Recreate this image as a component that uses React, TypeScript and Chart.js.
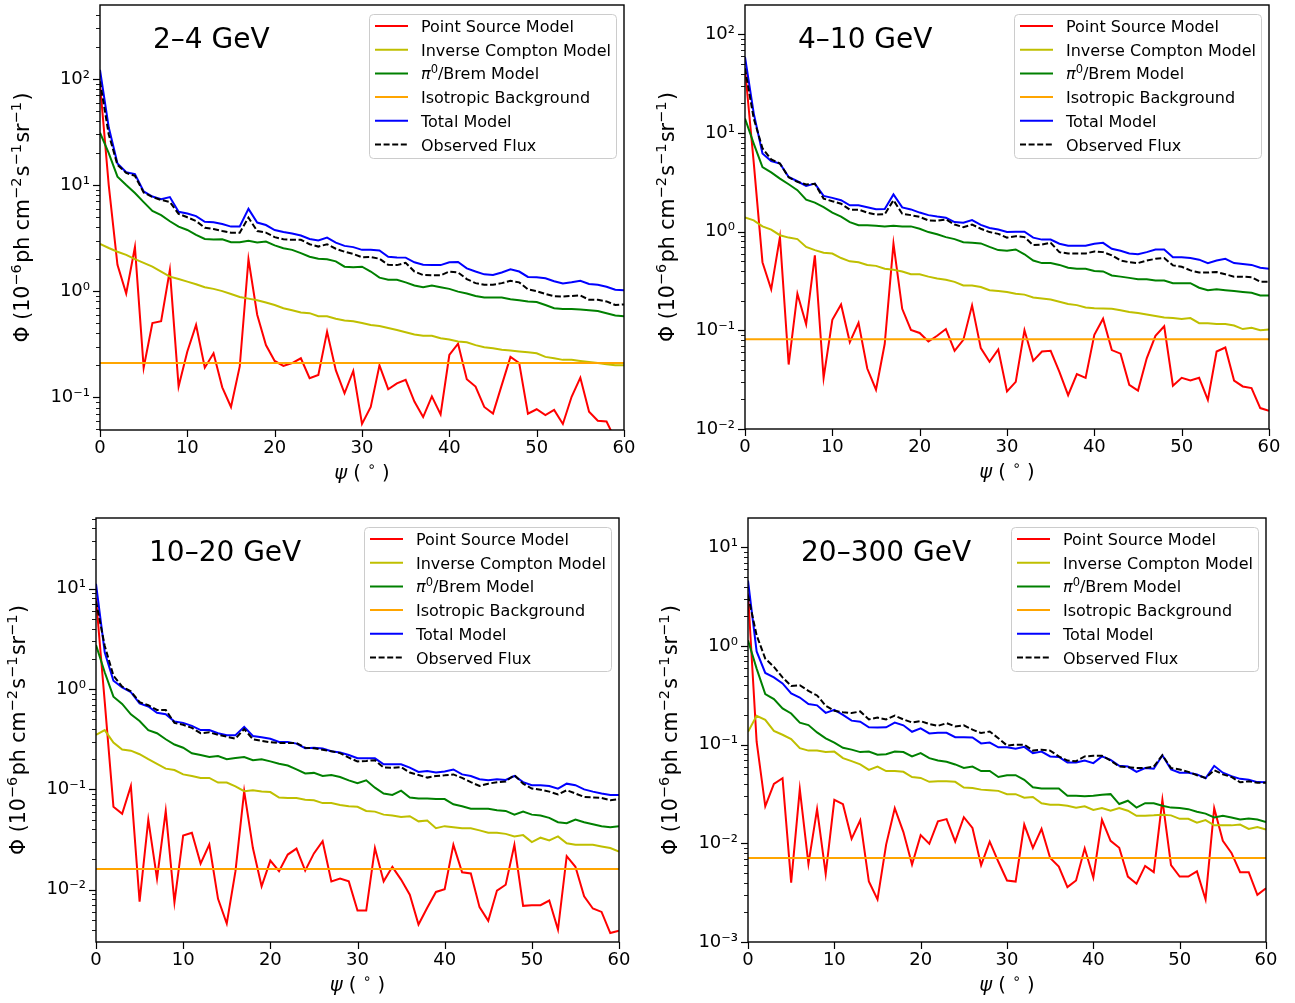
import React, { useEffect, useRef } from 'react';
import { Chart, registerables } from 'chart.js';

Chart.register(...registerables);

const FONT = "'DejaVu Sans', sans-serif";

// Angular distance from the centre (degrees)
const PSI = [0, 1, 2, 3, 4, 5, 6, 7, 8, 9, 10, 11, 12, 13, 14, 15, 16, 17, 18, 19, 20, 21, 22, 23, 24, 25, 26, 27, 28, 29, 30,
  31, 32, 33, 34, 35, 36, 37, 38, 39, 40, 41, 42, 43, 44, 45, 46, 47, 48, 49, 50, 51, 52, 53, 54, 55, 56, 57, 58, 59, 60];

const X_TICKS = [0, 10, 20, 30, 40, 50, 60];

const SERIES_LABELS = ['Point Source Model', 'Inverse Compton Model', 'π0/Brem Model', 'Isotropic Background', 'Total Model', 'Observed Flux'];

// ---------- 2–4 GeV ----------
const P1_POINT = [90, 10, 1.77, 0.95, 2.6, 0.19, 0.5, 0.52, 1.58, 0.126, 0.27, 0.48, 0.19, 0.26, 0.124, 0.081, 0.195, 2.0, 0.6, 0.31,
  0.22, 0.197, 0.21, 0.233, 0.151, 0.162, 0.415, 0.18, 0.109, 0.177, 0.056, 0.081, 0.2, 0.119, 0.135, 0.146, 0.091, 0.065, 0.102, 0.069,
  0.25, 0.32, 0.148, 0.126, 0.081, 0.07, 0.13, 0.24, 0.21, 0.07, 0.077, 0.068, 0.076, 0.056, 0.101, 0.153, 0.073, 0.06, 0.059, 0.04, 0.035];
const P1_IC = [2.79, 2.55, 2.35, 2.2, 2.0, 1.85, 1.7, 1.53, 1.37, 1.3, 1.23, 1.16, 1.09, 1.05, 1.0, 0.94, 0.88, 0.85, 0.82, 0.78,
  0.74, 0.69, 0.66, 0.63, 0.62, 0.58, 0.58, 0.55, 0.53, 0.52, 0.5, 0.48, 0.47, 0.45, 0.43, 0.41, 0.39, 0.38, 0.38, 0.36,
  0.35, 0.335, 0.33, 0.31, 0.296, 0.29, 0.28, 0.275, 0.27, 0.265, 0.26, 0.24, 0.233, 0.225, 0.225, 0.22, 0.215, 0.21, 0.205, 0.2, 0.2];
const P1_PI0 = [31.2, 20, 12, 10, 8.4, 6.9, 5.7, 5.2, 4.56, 4.06, 3.77, 3.39, 3.1, 3.07, 3.08, 2.89, 2.89, 2.98, 2.88, 2.93,
  2.7, 2.54, 2.45, 2.28, 2.11, 2.02, 2.0, 1.91, 1.7, 1.68, 1.7, 1.53, 1.34, 1.28, 1.28, 1.21, 1.13, 1.09, 1.13, 1.09,
  1.05, 0.99, 0.95, 0.9, 0.87, 0.87, 0.87, 0.84, 0.82, 0.8, 0.79, 0.74, 0.69, 0.68, 0.68, 0.67, 0.66, 0.65, 0.62, 0.59, 0.58];
const P1_ISO = [0.21, 0.21];
const P1_TOTAL = [122, 35, 16, 13.2, 12.7, 8.7, 7.8, 7.35, 7.7, 5.6, 5.4, 5.1, 4.5, 4.47, 4.3, 4.06, 4.07, 5.96, 4.43, 4.2,
  3.77, 3.61, 3.5, 3.34, 3.1, 3.0, 3.2, 2.87, 2.67, 2.6, 2.45, 2.46, 2.42, 2.11, 2.08, 2.07, 1.87, 1.77, 1.76, 1.76,
  1.87, 1.88, 1.64, 1.53, 1.44, 1.42, 1.5, 1.61, 1.53, 1.36, 1.35, 1.32, 1.24, 1.18, 1.21, 1.25, 1.17, 1.15, 1.1, 1.03, 1.02];
const P1_OBS = [95, 30, 15.5, 13, 12.2, 8.5, 7.7, 7.24, 6.92, 5.35, 4.97, 4.58, 3.96, 3.85, 3.69, 3.56, 3.56, 4.93, 3.69, 3.56,
  3.23, 3.08, 3.05, 3.05, 2.77, 2.63, 2.77, 2.51, 2.35, 2.24, 2.09, 2.1, 2.02, 1.77, 1.76, 1.85, 1.53, 1.42, 1.41, 1.41,
  1.53, 1.5, 1.3, 1.19, 1.15, 1.15, 1.19, 1.25, 1.21, 1.04, 1.0, 0.94, 0.895, 0.89, 0.9, 0.91, 0.83, 0.83, 0.8, 0.74, 0.75];

// ---------- 4–10 GeV ----------
const P2_POINT = [45, 5, 0.49, 0.26, 0.88, 0.045, 0.235, 0.115, 0.575, 0.033, 0.128, 0.183, 0.076, 0.119, 0.041, 0.025, 0.073, 0.755, 0.165, 0.101,
  0.094, 0.077, 0.088, 0.103, 0.062, 0.08, 0.179, 0.066, 0.048, 0.064, 0.024, 0.03, 0.1, 0.049, 0.061, 0.062, 0.038, 0.022, 0.036, 0.033,
  0.09, 0.131, 0.063, 0.058, 0.028, 0.0245, 0.052, 0.088, 0.11, 0.0275, 0.033, 0.031, 0.033, 0.0197, 0.061, 0.067, 0.031, 0.027, 0.026, 0.0163, 0.0153];
const P2_IC = [1.39, 1.3, 1.13, 1.05, 0.92, 0.87, 0.84, 0.7, 0.65, 0.61, 0.6, 0.54, 0.5, 0.49, 0.46, 0.45, 0.42, 0.41, 0.395, 0.37,
  0.37, 0.35, 0.335, 0.325, 0.31, 0.285, 0.285, 0.275, 0.255, 0.25, 0.245, 0.235, 0.23, 0.215, 0.21, 0.205, 0.195, 0.185, 0.18, 0.17,
  0.167, 0.166, 0.165, 0.16, 0.153, 0.15, 0.145, 0.14, 0.135, 0.133, 0.13, 0.133, 0.118, 0.118, 0.116, 0.116, 0.112, 0.103, 0.106, 0.1, 0.102];
const P2_PI0 = [14, 7.8, 4.5, 3.98, 3.45, 3.02, 2.63, 2.11, 1.97, 1.77, 1.56, 1.42, 1.25, 1.16, 1.16, 1.15, 1.13, 1.15, 1.13, 1.13,
  1.07, 0.99, 0.94, 0.88, 0.84, 0.78, 0.77, 0.76, 0.7, 0.65, 0.64, 0.66, 0.59, 0.51, 0.48, 0.48, 0.46, 0.43, 0.42, 0.42,
  0.4, 0.395, 0.36, 0.35, 0.34, 0.33, 0.33, 0.32, 0.32, 0.3, 0.3, 0.3, 0.27, 0.255, 0.26, 0.255, 0.25, 0.245, 0.24, 0.225, 0.225];
const P2_ISO = [0.081, 0.081];
const P2_TOTAL = [59, 15.8, 6.2, 5.2, 4.9, 3.58, 3.24, 2.9, 3.07, 2.3, 2.2, 2.08, 1.85, 1.85, 1.77, 1.69, 1.7, 2.38, 1.76, 1.68,
  1.56, 1.47, 1.42, 1.38, 1.25, 1.23, 1.31, 1.17, 1.09, 1.05, 0.99, 1.0, 1.0, 0.87, 0.83, 0.83, 0.755, 0.72, 0.72, 0.72,
  0.755, 0.77, 0.67, 0.64, 0.6, 0.59, 0.62, 0.66, 0.66, 0.55, 0.55, 0.54, 0.52, 0.48, 0.51, 0.53, 0.48, 0.47, 0.46, 0.43, 0.42];
const P2_OBS = [45, 14, 7, 5.4, 4.9, 3.55, 3.2, 3.0, 3.05, 2.16, 2.03, 1.92, 1.67, 1.67, 1.56, 1.49, 1.5, 2.08, 1.52, 1.47,
  1.41, 1.3, 1.29, 1.33, 1.18, 1.11, 1.18, 1.07, 0.99, 0.95, 0.87, 0.9, 0.88, 0.73, 0.74, 0.77, 0.62, 0.6, 0.6, 0.6,
  0.63, 0.62, 0.575, 0.51, 0.49, 0.48, 0.51, 0.53, 0.54, 0.455, 0.44, 0.405, 0.385, 0.385, 0.39, 0.37, 0.35, 0.35, 0.345, 0.31, 0.31];

// ---------- 10–20 GeV ----------
const P3_POINT = [8, 0.75, 0.067, 0.057, 0.108, 0.0076, 0.05, 0.0129, 0.061, 0.0075, 0.0347, 0.0369, 0.0182, 0.0282, 0.0081, 0.0046, 0.0153, 0.096, 0.026, 0.0108,
  0.0195, 0.0153, 0.0224, 0.0257, 0.0155, 0.023, 0.0304, 0.0121, 0.0129, 0.0121, 0.0062, 0.0062, 0.026, 0.0121, 0.0169, 0.0126, 0.0089, 0.0045, 0.0066, 0.0095,
  0.0101, 0.028, 0.0149, 0.0145, 0.0067, 0.0049, 0.0098, 0.0112, 0.028, 0.0069, 0.007, 0.007, 0.0078, 0.004, 0.0216, 0.0169, 0.0086, 0.0065, 0.006, 0.0037, 0.0039];
const P3_IC = [0.35, 0.39, 0.293, 0.25, 0.243, 0.224, 0.2, 0.18, 0.161, 0.156, 0.141, 0.136, 0.13, 0.13, 0.117, 0.117, 0.107, 0.096, 0.098, 0.095,
  0.094, 0.083, 0.082, 0.082, 0.079, 0.078, 0.073, 0.073, 0.07, 0.068, 0.067, 0.061, 0.06, 0.056, 0.055, 0.053, 0.054, 0.048, 0.049, 0.041,
  0.043, 0.042, 0.041, 0.041, 0.039, 0.037, 0.037, 0.036, 0.034, 0.035, 0.0298, 0.033, 0.031, 0.034, 0.029, 0.028, 0.028, 0.028, 0.027, 0.026, 0.024];
const P3_PI0 = [2.75, 1.47, 0.84, 0.71, 0.56, 0.48, 0.39, 0.363, 0.316, 0.28, 0.26, 0.229, 0.22, 0.21, 0.215, 0.2, 0.205, 0.21, 0.195, 0.2,
  0.19, 0.18, 0.173, 0.158, 0.144, 0.146, 0.136, 0.139, 0.133, 0.123, 0.115, 0.123, 0.104, 0.091, 0.088, 0.097, 0.083, 0.081, 0.081, 0.08,
  0.08, 0.071, 0.068, 0.064, 0.064, 0.064, 0.062, 0.061, 0.056, 0.06, 0.056, 0.055, 0.052, 0.047, 0.046, 0.05, 0.047, 0.045, 0.043, 0.042, 0.043];
const P3_ISO = [0.0161, 0.0161];
const P3_TOTAL = [11.2, 2.33, 1.21, 1.04, 0.93, 0.72, 0.67, 0.58, 0.56, 0.475, 0.46, 0.43, 0.39, 0.39, 0.363, 0.346, 0.346, 0.42, 0.34, 0.33,
  0.32, 0.297, 0.297, 0.286, 0.257, 0.26, 0.255, 0.24, 0.233, 0.22, 0.204, 0.204, 0.204, 0.178, 0.178, 0.178, 0.165, 0.149, 0.152, 0.147,
  0.151, 0.158, 0.141, 0.136, 0.126, 0.123, 0.126, 0.124, 0.136, 0.118, 0.11, 0.11, 0.108, 0.1016, 0.114, 0.11, 0.1, 0.095, 0.091, 0.088, 0.088];
const P3_OBS = [7.5, 2.7, 1.36, 1.06, 0.95, 0.74, 0.69, 0.62, 0.62, 0.46, 0.44, 0.41, 0.363, 0.37, 0.35, 0.335, 0.32, 0.4, 0.316, 0.305,
  0.295, 0.29, 0.29, 0.29, 0.26, 0.257, 0.248, 0.24, 0.23, 0.207, 0.19, 0.192, 0.195, 0.165, 0.164, 0.167, 0.147, 0.139, 0.131, 0.136,
  0.138, 0.141, 0.13, 0.118, 0.108, 0.114, 0.118, 0.12, 0.139, 0.114, 0.102, 0.099, 0.095, 0.089, 0.098, 0.091, 0.084, 0.083, 0.082, 0.078, 0.08];

// ---------- 20–300 GeV ----------
const P4_POINT = [3.4, 0.107, 0.0237, 0.04, 0.0457, 0.004, 0.0354, 0.0062, 0.0222, 0.0049, 0.0276, 0.0249, 0.0111, 0.0171, 0.0041, 0.0027, 0.0097, 0.0227, 0.013, 0.0061,
  0.0121, 0.0099, 0.0167, 0.0176, 0.0104, 0.0184, 0.0143, 0.006, 0.0104, 0.0065, 0.0042, 0.0041, 0.0155, 0.009, 0.014, 0.0071, 0.0058, 0.0036, 0.0042, 0.0089,
  0.0045, 0.0173, 0.0106, 0.009, 0.0046, 0.0039, 0.0059, 0.0051, 0.0276, 0.006, 0.0046, 0.0046, 0.0052, 0.0027, 0.0227, 0.0106, 0.008, 0.0051, 0.0051, 0.003, 0.0035];
const P4_IC = [0.135, 0.196, 0.178, 0.138, 0.126, 0.114, 0.092, 0.087, 0.087, 0.084, 0.085, 0.073, 0.068, 0.063, 0.0555, 0.06, 0.054, 0.054, 0.053, 0.047,
  0.046, 0.042, 0.0425, 0.0425, 0.042, 0.0368, 0.0363, 0.035, 0.0345, 0.034, 0.0315, 0.0315, 0.029, 0.0295, 0.0255, 0.0246, 0.0246, 0.024, 0.023, 0.0237,
  0.0218, 0.0228, 0.0214, 0.0228, 0.0214, 0.019, 0.019, 0.0192, 0.0195, 0.0192, 0.0177, 0.0177, 0.0162, 0.0172, 0.0152, 0.0152, 0.0152, 0.0155, 0.014, 0.0146, 0.0138];
const P4_PI0 = [1.14, 0.59, 0.325, 0.29, 0.233, 0.207, 0.167, 0.158, 0.133, 0.116, 0.105, 0.093, 0.089, 0.084, 0.085, 0.079, 0.08, 0.085, 0.084, 0.076,
  0.082, 0.073, 0.069, 0.067, 0.063, 0.058, 0.06, 0.054, 0.054, 0.047, 0.049, 0.049, 0.044, 0.037, 0.036, 0.036, 0.036, 0.0303, 0.0303, 0.03,
  0.0303, 0.031, 0.0315, 0.025, 0.027, 0.023, 0.0255, 0.0255, 0.024, 0.023, 0.0228, 0.0222, 0.0209, 0.02, 0.0183, 0.019, 0.0183, 0.0174, 0.0178, 0.0174, 0.0164];
const P4_ISO = [0.0071, 0.0071];
const P4_TOTAL = [4.6, 0.88, 0.533, 0.48, 0.417, 0.33, 0.3, 0.258, 0.25, 0.21, 0.225, 0.2, 0.175, 0.171, 0.15, 0.149, 0.15, 0.167, 0.157, 0.135,
  0.146, 0.13, 0.132, 0.132, 0.119, 0.119, 0.118, 0.103, 0.105, 0.094, 0.094, 0.091, 0.095, 0.082, 0.085, 0.076, 0.075, 0.066, 0.066, 0.069,
  0.065, 0.076, 0.07, 0.061, 0.06, 0.053, 0.058, 0.057, 0.078, 0.056, 0.052, 0.052, 0.05, 0.0457, 0.061, 0.052, 0.048, 0.045, 0.044, 0.0417, 0.0415];
const P4_OBS = [3.25, 1.28, 0.745, 0.614, 0.48, 0.394, 0.4, 0.35, 0.315, 0.248, 0.22, 0.213, 0.209, 0.217, 0.18, 0.188, 0.18, 0.197, 0.18, 0.168,
  0.173, 0.162, 0.155, 0.165, 0.153, 0.157, 0.142, 0.131, 0.136, 0.116, 0.098, 0.1, 0.1, 0.087, 0.089, 0.087, 0.076, 0.069, 0.068, 0.076,
  0.077, 0.077, 0.069, 0.06, 0.059, 0.058, 0.058, 0.06, 0.078, 0.058, 0.056, 0.053, 0.049, 0.046, 0.055, 0.05, 0.047, 0.0415, 0.0425, 0.041, 0.041];

type Panel = {
  title: string;
  point: number[]; ic: number[]; pi0: number[]; iso: number[]; total: number[]; obs: number[];
  yMin: number; yMax: number;
  box: { left: number; top: number; w: number; h: number };
  area: { l: number; t: number; r: number; b: number };
};

const PANELS: Panel[] = [
  { title: '2–4 GeV', point: P1_POINT, ic: P1_IC, pi0: P1_PI0, iso: P1_ISO, total: P1_TOTAL, obs: P1_OBS,
    yMin: 0.0491, yMax: 498, box: { left: 0, top: 0, w: 647, h: 500 }, area: { l: 100, t: 5, r: 624, b: 430 } },
  { title: '4–10 GeV', point: P2_POINT, ic: P2_IC, pi0: P2_PI0, iso: P2_ISO, total: P2_TOTAL, obs: P2_OBS,
    yMin: 0.01, yMax: 198, box: { left: 647, top: 0, w: 648, h: 500 }, area: { l: 98, t: 5, r: 622, b: 429 } },
  { title: '10–20 GeV', point: P3_POINT, ic: P3_IC, pi0: P3_PI0, iso: P3_ISO, total: P3_TOTAL, obs: P3_OBS,
    yMin: 0.00301, yMax: 50.7, box: { left: 0, top: 500, w: 647, h: 503 }, area: { l: 96, t: 18, r: 619, b: 442 } },
  { title: '20–300 GeV', point: P4_POINT, ic: P4_IC, pi0: P4_PI0, iso: P4_ISO, total: P4_TOTAL, obs: P4_OBS,
    yMin: 0.001, yMax: 19.8, box: { left: 647, top: 500, w: 648, h: 503 }, area: { l: 101, t: 18, r: 619, b: 442 } },
];

const COLORS = ['#ff0000', '#bfbf00', '#008000', '#ffa500', '#0000ff', '#000000'];
const DASH = [6, 2.6];

type Seg = { t: string; s: number; it?: boolean; up?: number; gap?: number };
const segFont = (g: Seg) => `${g.it ? 'italic ' : ''}${g.s}px ${FONT}`;
function segW(ctx: CanvasRenderingContext2D, g: Seg) {
  ctx.font = segFont(g);
  return ctx.measureText(g.t).width + (g.gap || 0);
}
function drawRich(ctx: CanvasRenderingContext2D, segs: Seg[], x: number, y: number, align: 'left' | 'center') {
  let w = 0;
  for (const g of segs) w += segW(ctx, g);
  let cx = align === 'center' ? x - w / 2 : x;
  ctx.textAlign = 'left';
  ctx.textBaseline = 'alphabetic';
  for (const g of segs) {
    ctx.font = segFont(g);
    ctx.fillText(g.t, cx, y - (g.up || 0));
    cx += segW(ctx, g);
  }
}

const SUP: Record<string, string> = { '-': '⁻', '0': '⁰', '1': '¹', '2': '²', '3': '³' };
const isDecade = (v: number) => Math.abs(Math.log10(v) - Math.round(Math.log10(v))) < 1e-6;

function logTicks(min: number, max: number) {
  const out: number[] = [];
  for (let e = Math.floor(Math.log10(min)); e <= Math.ceil(Math.log10(max)); e++) {
    for (let m = 1; m <= 9; m++) {
      const v = m * Math.pow(10, e);
      if (v >= min * 0.9999 && v <= max * 1.0001) out.push(v);
    }
  }
  return out;
}

const LEGEND_SEGS: Seg[][] = [
  [{ t: 'Point Source Model', s: 16 }],
  [{ t: 'Inverse Compton Model', s: 16 }],
  [{ t: 'π', s: 16, it: true }, { t: '0', s: 11.5, up: 6.5 }, { t: '/Brem Model', s: 16 }],
  [{ t: 'Isotropic Background', s: 16 }],
  [{ t: 'Total Model', s: 16 }],
  [{ t: 'Observed Flux', s: 16 }],
];

const Y_TITLE: Seg[] = [
  { t: 'Φ (10', s: 20.5 }, { t: '−6', s: 14.5, up: 8.5, gap: 1.5 }, { t: 'ph cm', s: 20.5 }, { t: '−2', s: 14.5, up: 8.5, gap: 1.5 },
  { t: 's', s: 20.5 }, { t: '−1', s: 14.5, up: 8.5, gap: 1.5 }, { t: 'sr', s: 20.5 }, { t: '−1', s: 14.5, up: 8.5, gap: 1.5 }, { t: ')', s: 20.5 },
];
const X_TITLE: Seg[] = [{ t: 'ψ', s: 19.5, it: true }, { t: ' ( ', s: 19.5 }, { t: '∘', s: 14, up: 8 }, { t: ' )', s: 19.5 }];

function PanelChart({ cfg }: { cfg: Panel }) {
  const ref = useRef<HTMLCanvasElement>(null);
  useEffect(() => {
    const canvas = ref.current!;
    const xy = (arr: number[]) => arr.map((y, i) => ({ x: PSI[i], y }));
    const seriesData = [xy(cfg.point), xy(cfg.ic), xy(cfg.pi0),
      [{ x: PSI[0], y: cfg.iso[0] }, { x: PSI[PSI.length - 1], y: cfg.iso[1] }], xy(cfg.total), xy(cfg.obs)];
    const datasets = seriesData.map((d, i) => ({
      label: SERIES_LABELS[i],
      data: d,
      borderColor: COLORS[i],
      backgroundColor: COLORS[i],
      borderWidth: 2,
      borderDash: i === 5 ? DASH : [],
      pointRadius: 0,
      tension: 0,
      fill: false,
      order: 6 - i,
    }));
    const xH = cfg.box.h - cfg.area.b;
    const yW = cfg.area.l;

    const decor = {
      id: 'decor',
      afterDraw(chart: any) {
        const ctx: CanvasRenderingContext2D = chart.ctx;
        const { left, top, right, bottom } = chart.chartArea;
        const ys = chart.scales.y, xs = chart.scales.x;
        ctx.save();
        ctx.strokeStyle = '#000';
        ctx.fillStyle = '#000';
        for (const t of ys.ticks) {
          const py = Math.round(ys.getPixelForValue(t.value)) + 0.5;
          const major = isDecade(t.value);
          ctx.lineWidth = major ? 1.2 : 0.9;
          const len = major ? 7 : 4;
          ctx.beginPath(); ctx.moveTo(left - len, py); ctx.lineTo(left, py); ctx.stroke();
        }
        for (const t of xs.ticks) {
          const px = Math.round(xs.getPixelForValue(t.value)) + 0.5;
          ctx.lineWidth = 1.2;
          ctx.beginPath(); ctx.moveTo(px, bottom); ctx.lineTo(px, bottom + 7); ctx.stroke();
        }
        ctx.lineWidth = 1.4;
        ctx.strokeRect(left, top, right - left, bottom - top);

        // panel title
        drawRich(ctx, [{ t: cfg.title, s: 28 }], left + 53, top + 43, 'left');

        // axis titles
        drawRich(ctx, X_TITLE, (left + right) / 2, bottom + 49, 'center');
        ctx.save();
        ctx.translate(left - 71, (top + bottom) / 2);
        ctx.rotate(-Math.PI / 2);
        drawRich(ctx, Y_TITLE, 0, 0, 'center');
        ctx.restore();

        // legend
        const bw = 247, bh = 144;
        const bx = right - 8 - bw, by = top + 9;
        ctx.beginPath();
        (ctx as any).roundRect(bx + 0.5, by + 0.5, bw, bh, 4);
        ctx.fillStyle = 'rgba(255,255,255,0.8)';
        ctx.fill();
        ctx.strokeStyle = '#cccccc';
        ctx.lineWidth = 1;
        ctx.stroke();
        for (let i = 0; i < 6; i++) {
          const cy = by + 12 + i * 23.7;
          ctx.strokeStyle = COLORS[i];
          ctx.lineWidth = 2;
          ctx.setLineDash(i === 5 ? DASH : []);
          ctx.beginPath(); ctx.moveTo(bx + 6, cy); ctx.lineTo(bx + 39, cy); ctx.stroke();
          ctx.setLineDash([]);
          ctx.fillStyle = '#000';
          drawRich(ctx, LEGEND_SEGS[i], bx + 52, cy + 6, 'left');
        }
        ctx.restore();
      },
    };

    const chart = new Chart(canvas, {
      type: 'line',
      data: { datasets: datasets as any },
      options: {
        animation: false,
        responsive: false,
        devicePixelRatio: 1,
        layout: { padding: { left: 0, top: cfg.area.t, right: cfg.box.w - cfg.area.r, bottom: 0 } },
        plugins: { legend: { display: false }, tooltip: { enabled: false }, title: { display: false } },
        scales: {
          x: {
            type: 'linear', min: 0, max: 60,
            grid: { display: false, drawTicks: false },
            border: { display: false },
            ticks: { color: '#000', font: { family: FONT, size: 18 }, padding: 8, maxRotation: 0, autoSkip: false, stepSize: 10 },
            afterBuildTicks: (s: any) => { s.ticks = X_TICKS.map((v) => ({ value: v })); },
            afterFit: (s: any) => { s.height = xH; s.paddingLeft = 0; s.paddingRight = 0; },
          },
          y: {
            type: 'logarithmic', min: cfg.yMin, max: cfg.yMax,
            grid: { display: false, drawTicks: false },
            border: { display: false },
            ticks: {
              color: '#000', font: { family: FONT, size: 18 }, padding: 10, autoSkip: false,
              callback: (v: any) => {
                const n = Number(v);
                if (!isDecade(n)) return '';
                const e = String(Math.round(Math.log10(n)));
                return '10' + e.split('').map((c) => SUP[c]).join('');
              },
            },
            afterBuildTicks: (s: any) => { s.ticks = logTicks(cfg.yMin, cfg.yMax).map((v) => ({ value: v })); },
            afterFit: (s: any) => { s.width = yW; s.paddingTop = 0; s.paddingBottom = 0; },
          },
        },
      } as any,
      plugins: [decor],
    });
    return () => chart.destroy();
  }, [cfg]);
  return (
    <canvas
      ref={ref}
      width={cfg.box.w}
      height={cfg.box.h}
      style={{ position: 'absolute', left: cfg.box.left, top: cfg.box.top, width: cfg.box.w, height: cfg.box.h }}
    />
  );
}

export default function App() {
  return (
    <div style={{ position: 'absolute', left: 0, top: 0, width: 1295, height: 1003, background: '#fff', overflow: 'hidden' }}>
      {PANELS.map((p, i) => <PanelChart key={i} cfg={p} />)}
    </div>
  );
}
